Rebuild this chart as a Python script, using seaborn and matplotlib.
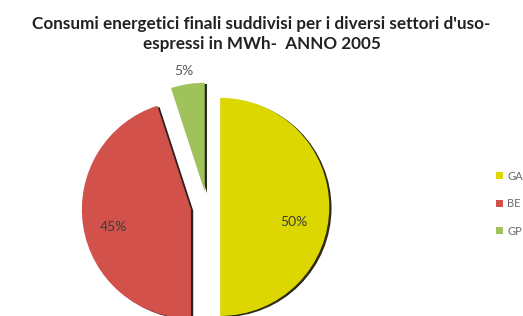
import numpy as np
import matplotlib
matplotlib.use("Agg")
import matplotlib.pyplot as plt
from matplotlib.patches import Shadow
import seaborn as sns

# data (legend names are cut at the picture edge: keep only what shows)
settori = ["GA", "BE", "GP"]
quote = [50, 45, 5]
colori = ["#dcd700", "#d2524b", "#9fc25a"]
titolo = "Consumi energetici finali suddivisi per i diversi settori d'uso-\nespressi in MWh-  ANNO 2005"

sns.set_theme(style="white")
plt.rcParams["font.family"] = ["Lato", "DejaVu Sans"]

fig = plt.figure(figsize=(5.23, 3.16), dpi=100)
# pie axes placed so the (partly cut) pie sits like in the original
ax = fig.add_axes([32.6 / 523, -65.4 / 316, 349 / 523, 349 / 316])

wedges, _, pcts = ax.pie(
    quote, colors=colori, startangle=90, counterclock=False,
    explode=[0.12, 0.15, 0.14], autopct="%d%%",
    shadow={"ox": 0.015, "oy": -0.008, "shade": 0.9},
    wedgeprops={"linewidth": 0},
    textprops={"fontsize": 10, "color": "#3c3c3c"},
)
ax.set_xlim(-1.6, 1.6)
ax.set_ylim(-1.6, 1.6)
ax.set_aspect("equal")
ax.axis("off")

# darker, solid shadows like the original
for p in ax.patches:
    if isinstance(p, Shadow):
        p.set_alpha(0.9)

# nudge percentage labels the way Excel placed them
dist = [0.69, 0.73, 1.12]
shift = [-11.5, 4, 0.8]
for w, t, d, s in zip(wedges, pcts, dist, shift):
    ang = np.deg2rad((w.theta1 + w.theta2) / 2 + s)
    cx, cy = w.center
    t.set_position((cx + d * np.cos(ang), cy + d * np.sin(ang)))
    t.set_ha("center")
    t.set_va("center")
pcts[2].set_color("#5a5a5a")

fig.text(0.5, 0.95, titolo, ha="center", va="top", fontsize=12.3,
         fontweight="bold", color="#222222", linespacing=1.3)

# legend at the right edge
fig.legend(wedges, settori, loc="upper left", bbox_to_anchor=(0.938, 0.478),
           frameon=False, fontsize=8, handlelength=0.6, handleheight=0.6,
           handletextpad=0.4, labelspacing=1.5, borderpad=0, labelcolor="#6a6a6a")

fig.savefig("out.png", dpi=100)
